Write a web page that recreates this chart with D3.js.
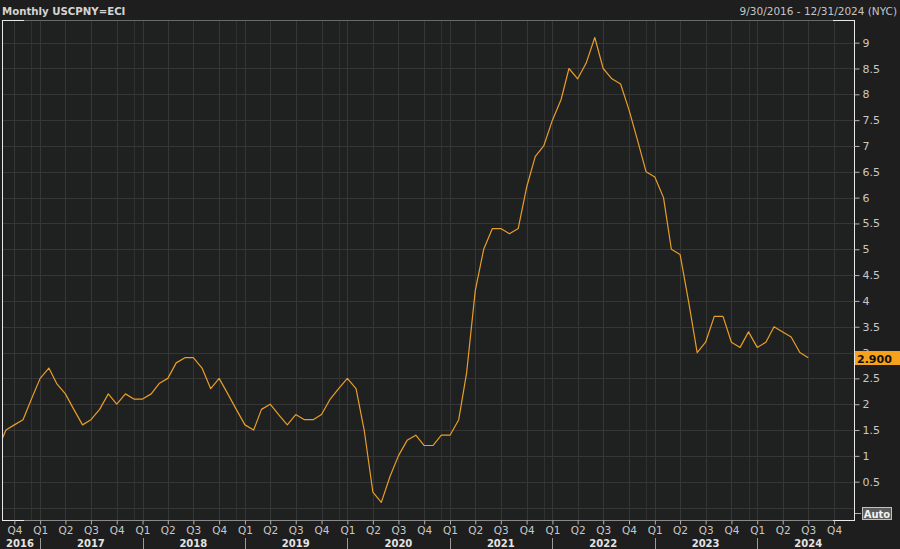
<!DOCTYPE html>
<html>
<head>
<meta charset="utf-8">
<script src="https://cdn.jsdelivr.net/npm/d3@7"></script>
<style>
  html, body { margin: 0; padding: 0; background: #1e1e1e; }
  svg { display: block; }
</style>
</head>
<body>
<svg id="chart" width="900" height="549"></svg>
<script>
// ---------------- data ----------------
const titleText = "Monthly USCPNY=ECI";
const rangeText = "9/30/2016 - 12/31/2024 (NYC)";
const firstMonth = "2016-08";   // month of the first value
// US CPI YoY %, monthly
const cpiYoY = [
  1.1, 1.5, 1.6, 1.7, 2.1,                                   // 2016 Aug-Dec
  2.5, 2.7, 2.4, 2.2, 1.9, 1.6, 1.7, 1.9, 2.2, 2.0, 2.2, 2.1, // 2017
  2.1, 2.2, 2.4, 2.5, 2.8, 2.9, 2.9, 2.7, 2.3, 2.5, 2.2, 1.9, // 2018
  1.6, 1.5, 1.9, 2.0, 1.8, 1.6, 1.8, 1.7, 1.7, 1.8, 2.1, 2.3, // 2019
  2.5, 2.3, 1.5, 0.3, 0.1, 0.6, 1.0, 1.3, 1.4, 1.2, 1.2, 1.4, // 2020
  1.4, 1.7, 2.6, 4.2, 5.0, 5.4, 5.4, 5.3, 5.4, 6.2, 6.8, 7.0, // 2021
  7.5, 7.9, 8.5, 8.3, 8.6, 9.1, 8.5, 8.3, 8.2, 7.7, 7.1, 6.5, // 2022
  6.4, 6.0, 5.0, 4.9, 4.0, 3.0, 3.2, 3.7, 3.7, 3.2, 3.1, 3.4, // 2023
  3.1, 3.2, 3.5, 3.4, 3.3, 3.0, 2.9                          // 2024 Jan-Jul
];
const yTicks = [0.5,1,1.5,2,2.5,3,3.5,4,4.5,5,5.5,6,6.5,7,7.5,8,8.5,9];
const yTickLabels = ["0.5","1","1.5","2","2.5","3","3.5","4","4.5","5","5.5","6","6.5","7","7.5","8","8.5","9"];
const years = [2016, 2017, 2018, 2019, 2020, 2021, 2022, 2023, 2024];
const lastLabel = "2.900";
const autoLabel = "Auto";

// ---------------- layout ----------------
const svg = d3.select("#chart");
const W = 900, H = 549;
const plot = { left: 2, right: 854, top: 20, bottom: 520 };

const parseM = d3.utcParse("%Y-%m");
const parseD = d3.utcParse("%Y-%m-%d");
const start = parseM(firstMonth);
const data = cpiYoY.map((v, i) => ({ date: d3.utcMonth.offset(start, i), value: v }));

const x = d3.scaleUtc()
  .domain([parseD("2016-08-18"), parseD("2024-12-11")])
  .range([plot.left, plot.right]);
const y = d3.scaleLinear()
  .domain([-0.242, 9.439])
  .range([plot.bottom, plot.top]);

const font = "'DejaVu Sans', Verdana, sans-serif";

// background
svg.append("rect").attr("width", W).attr("height", H).attr("fill", "#1e1e1e");
svg.append("rect")
  .attr("x", plot.left).attr("y", plot.top)
  .attr("width", plot.right - plot.left).attr("height", plot.bottom - plot.top)
  .attr("fill", "#1f2020");

// quarter ticks
const quarters = d3.utcMonth.every(3).range(parseD("2016-10-01"), parseD("2024-10-02"));
const yearStarts = years.slice(1).map(yr => parseD(yr + "-01-01"));
const decLines = years.slice(0, -1).map(yr => parseD(yr + "-12-01"));

// vertical grid
const grid = svg.append("g").attr("stroke", "#363636").attr("stroke-width", 1);
grid.selectAll("line.q").data(quarters).join("line")
  .attr("x1", d => Math.round(x(d)) + 0.5).attr("x2", d => Math.round(x(d)) + 0.5)
  .attr("y1", plot.top).attr("y2", plot.bottom);
grid.selectAll("line.d").data(decLines).join("line")
  .attr("class", "d")
  .attr("x1", d => Math.round(x(d)) + 0.5).attr("x2", d => Math.round(x(d)) + 0.5)
  .attr("y1", plot.top).attr("y2", plot.bottom)
  .attr("stroke", "#303030");
// horizontal grid
grid.selectAll("line.h").data([0].concat(yTicks)).join("line")
  .attr("class", "h")
  .attr("x1", plot.left).attr("x2", plot.right)
  .attr("y1", d => Math.round(y(d)) + 0.5).attr("y2", d => Math.round(y(d)) + 0.5);

// line
svg.append("clipPath").attr("id", "clip").append("rect")
  .attr("x", plot.left).attr("y", plot.top)
  .attr("width", plot.right - plot.left).attr("height", plot.bottom - plot.top);
const line = d3.line().x(d => x(d.date)).y(d => y(d.value));
svg.append("path")
  .datum(data)
  .attr("clip-path", "url(#clip)")
  .attr("fill", "none")
  .attr("stroke", "#e89d2a")
  .attr("stroke-width", 1.2)
  .attr("stroke-linejoin", "round")
  .attr("d", line);

// frame
const frame = svg.append("g").attr("fill", "none");
frame.append("line").attr("x1", plot.left).attr("x2", plot.right)
  .attr("y1", plot.top + 0.5).attr("y2", plot.top + 0.5).attr("stroke", "#6a6a6a");
frame.append("line").attr("x1", plot.left).attr("x2", plot.right)
  .attr("y1", plot.bottom + 0.5).attr("y2", plot.bottom + 0.5).attr("stroke", "#8a8a8a");
frame.append("line").attr("x1", plot.left + 0.5).attr("x2", plot.left + 0.5)
  .attr("y1", plot.top).attr("y2", plot.bottom + 1).attr("stroke", "#e8e8e8");
frame.append("line").attr("x1", plot.right + 0.5).attr("x2", plot.right + 0.5)
  .attr("y1", plot.top).attr("y2", plot.bottom + 1).attr("stroke", "#e8e8e8");
[[plot.top], [plot.bottom]].forEach(([yy]) => {
  frame.append("line").attr("x1", plot.left).attr("x2", plot.left + 22)
    .attr("y1", yy + 0.5).attr("y2", yy + 0.5).attr("stroke", "#e8e8e8");
  frame.append("line").attr("x1", plot.right - 21).attr("x2", plot.right + 1)
    .attr("y1", yy + 0.5).attr("y2", yy + 0.5).attr("stroke", "#e8e8e8");
});

// y axis (right)
const yAxis = d3.axisRight(y).tickValues(yTicks)
  .tickFormat((d, i) => yTickLabels[i]).tickSize(5).tickPadding(3);
const gy = svg.append("g").attr("transform", `translate(${plot.right + 0.5},0)`).call(yAxis);
gy.select(".domain").remove();
gy.selectAll(".tick line").attr("stroke", "#b0b0b0");
gy.selectAll(".tick text").attr("fill", "#c8c8c8")
  .attr("font-family", font).attr("font-size", 11);

// last value badge (covers most of the "3" label, as in the reference)
const lastY = y(cpiYoY[cpiYoY.length - 1]);
svg.append("rect").attr("x", plot.right + 1).attr("y", Math.round(lastY) - 7)
  .attr("width", W - plot.right - 1).attr("height", 14).attr("fill", "#f7a21c");
svg.append("text").attr("x", plot.right + 3).attr("y", Math.round(lastY) + 4.5)
  .attr("font-family", font).attr("font-size", 11).attr("font-weight", "bold")
  .attr("fill", "#111").text(lastLabel);

// Auto box
const autoY = Math.round(y(0));
svg.append("line").attr("x1", plot.right + 1).attr("x2", plot.right + 7)
  .attr("y1", autoY + 5.5).attr("y2", autoY + 5.5).attr("stroke", "#b0b0b0");
svg.append("rect").attr("x", 862.5).attr("y", autoY - 0.5)
  .attr("width", 29).attr("height", 12)
  .attr("fill", "#5c5c5c").attr("stroke", "#c0c0c0");
svg.append("text").attr("x", 877).attr("y", autoY + 9.5).attr("text-anchor", "middle")
  .attr("font-family", font).attr("font-size", 10).attr("font-weight", "bold")
  .attr("fill", "#f2f2f2").text(autoLabel);

// x axis (quarters)
const xAxis = d3.axisBottom(x).tickValues(quarters)
  .tickFormat(d => "Q" + (Math.floor(d.getUTCMonth() / 3) + 1)).tickSize(4).tickPadding(1);
const gx = svg.append("g").attr("transform", `translate(0,${plot.bottom + 0.5})`).call(xAxis);
gx.select(".domain").remove();
gx.selectAll(".tick line").attr("stroke", "#b0b0b0");
gx.selectAll(".tick text").attr("fill", "#c8c8c8")
  .attr("font-family", font).attr("font-size", 10.5).attr("dy", "0.85em");

// year labels and separators
svg.append("g").selectAll("line").data(yearStarts).join("line")
  .attr("x1", d => Math.round(x(d)) + 0.5).attr("x2", d => Math.round(x(d)) + 0.5)
  .attr("y1", 538).attr("y2", 549).attr("stroke", "#9a9a9a");
svg.append("g").selectAll("text").data(years).join("text")
  .attr("x", yr => yr === years[0] ? 20 : x(parseD(yr + "-07-01")))
  .attr("y", 546.5)
  .attr("text-anchor", "middle")
  .attr("font-family", font).attr("font-size", 10).attr("font-weight", "bold")
  .attr("fill", "#e4e4e4")
  .text(yr => yr);

// header
svg.append("text").attr("x", 2).attr("y", 15)
  .attr("font-family", font).attr("font-size", 10.2).attr("font-weight", "bold")
  .attr("fill", "#d4d4d4").text(titleText);
svg.append("text").attr("x", 897).attr("y", 15).attr("text-anchor", "end")
  .attr("font-family", font).attr("font-size", 10.5)
  .attr("fill", "#c4c4c4").text(rangeText);
</script>
</body>
</html>
